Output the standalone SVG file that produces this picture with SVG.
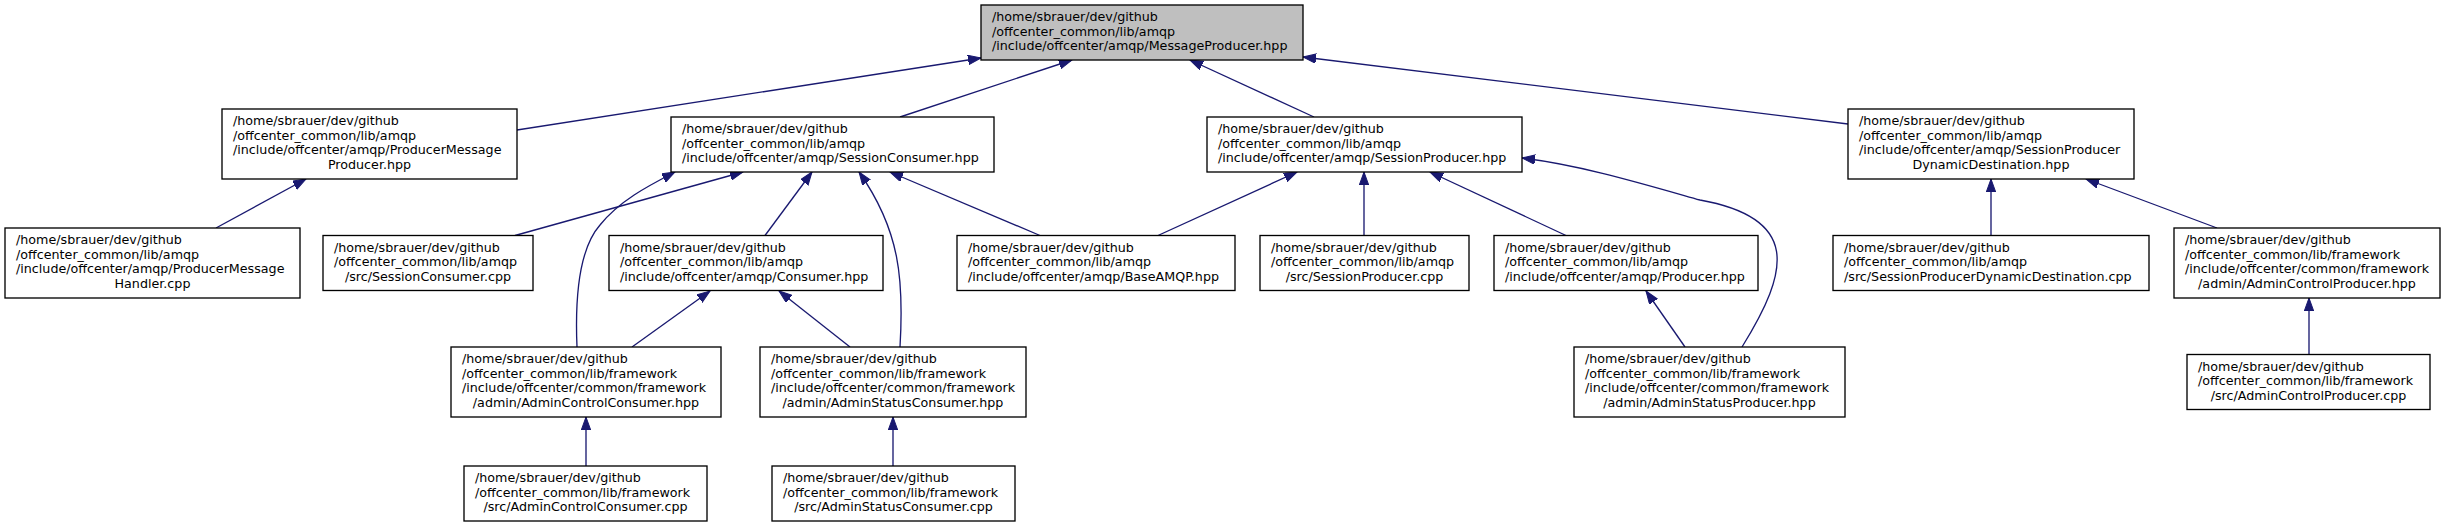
<svg xmlns="http://www.w3.org/2000/svg" width="2449" height="527" viewBox="0 0 2449 527">
<style>
.n rect{fill:#fff;stroke:#000;stroke-width:1.33}
.n.root rect{fill:#bfbfbf}
.n text{font-family:"DejaVu Sans",sans-serif;font-size:12.7px;fill:#000}
.n text.c{text-anchor:middle}
#edges path{fill:none;stroke:#191970;stroke-width:1.33;marker-end:url(#ah)}
</style>
<defs>
<marker id="ah" markerUnits="userSpaceOnUse" markerWidth="14" markerHeight="10" refX="13" refY="4.7" orient="auto">
<path d="M0,0 L13,4.7 L0,9.4 z" fill="#191970" stroke="#191970" stroke-width="1"/>
</marker>
</defs>
<rect width="2449" height="527" fill="#fff"/>
<g id="edges">
<path d="M216,228 L306,179"/>
<path d="M517,130 L981,58"/>
<path d="M900,117 L1072,60"/>
<path d="M1314,117 L1190,60"/>
<path d="M1848,124 L1303,57"/>
<path d="M515,235.5 L743,172"/>
<path d="M577,347 C575,300 578,250 600,225 C620,200 650,185 675,172"/>
<path d="M765,235.5 L812,172"/>
<path d="M900,347 C904,280 900,230 859,172"/>
<path d="M1040,235.5 L890,172"/>
<path d="M1158,235.5 L1297,172"/>
<path d="M1364,235.5 L1364,172"/>
<path d="M1566,235.5 L1430,172"/>
<path d="M1742,347 C1790,270 1800,218 1700,200 C1640,183 1580,165 1522,158"/>
<path d="M1685,347 L1646,291"/>
<path d="M632,347 L710,291"/>
<path d="M850,347 L779,291"/>
<path d="M1991,235.5 L1991,179"/>
<path d="M2217,228 L2086,179"/>
<path d="M2309,354.5 L2309,298"/>
<path d="M586,466 L586,417"/>
<path d="M893,466 L893,417"/>
</g>
<g id="n0" class="n root"><rect x="981" y="5" width="322" height="55"/>
<text x="992" y="21">/home/sbrauer/dev/github</text><text x="992" y="35.7">/offcenter_common/lib/amqp</text><text x="992" y="50.3">/include/offcenter/amqp/MessageProducer.hpp</text></g>
<g id="n1" class="n"><rect x="222" y="109" width="295" height="70"/>
<text x="233" y="125">/home/sbrauer/dev/github</text><text x="233" y="139.7">/offcenter_common/lib/amqp</text><text x="233" y="154.3">/include/offcenter/amqp/ProducerMessage</text><text class="c" x="369.5" y="169">Producer.hpp</text></g>
<g id="n2" class="n"><rect x="5" y="228" width="295" height="70"/>
<text x="16" y="244">/home/sbrauer/dev/github</text><text x="16" y="258.7">/offcenter_common/lib/amqp</text><text x="16" y="273.3">/include/offcenter/amqp/ProducerMessage</text><text class="c" x="152.5" y="288">Handler.cpp</text></g>
<g id="n3" class="n"><rect x="671" y="117" width="323" height="55"/>
<text x="682" y="133">/home/sbrauer/dev/github</text><text x="682" y="147.7">/offcenter_common/lib/amqp</text><text x="682" y="162.3">/include/offcenter/amqp/SessionConsumer.hpp</text></g>
<g id="n4" class="n"><rect x="323" y="235.5" width="210" height="55"/>
<text x="334" y="251.5">/home/sbrauer/dev/github</text><text x="334" y="266.2">/offcenter_common/lib/amqp</text><text class="c" x="428" y="280.8">/src/SessionConsumer.cpp</text></g>
<g id="n5" class="n"><rect x="609" y="235.5" width="274" height="55"/>
<text x="620" y="251.5">/home/sbrauer/dev/github</text><text x="620" y="266.2">/offcenter_common/lib/amqp</text><text x="620" y="280.8">/include/offcenter/amqp/Consumer.hpp</text></g>
<g id="n6" class="n"><rect x="957" y="235.5" width="278" height="55"/>
<text x="968" y="251.5">/home/sbrauer/dev/github</text><text x="968" y="266.2">/offcenter_common/lib/amqp</text><text x="968" y="280.8">/include/offcenter/amqp/BaseAMQP.hpp</text></g>
<g id="n7" class="n"><rect x="1207" y="117" width="315" height="55"/>
<text x="1218" y="133">/home/sbrauer/dev/github</text><text x="1218" y="147.7">/offcenter_common/lib/amqp</text><text x="1218" y="162.3">/include/offcenter/amqp/SessionProducer.hpp</text></g>
<g id="n8" class="n"><rect x="1260" y="235.5" width="209" height="55"/>
<text x="1271" y="251.5">/home/sbrauer/dev/github</text><text x="1271" y="266.2">/offcenter_common/lib/amqp</text><text class="c" x="1364.5" y="280.8">/src/SessionProducer.cpp</text></g>
<g id="n9" class="n"><rect x="1494" y="235.5" width="264" height="55"/>
<text x="1505" y="251.5">/home/sbrauer/dev/github</text><text x="1505" y="266.2">/offcenter_common/lib/amqp</text><text x="1505" y="280.8">/include/offcenter/amqp/Producer.hpp</text></g>
<g id="n10" class="n"><rect x="1848" y="109" width="286" height="70"/>
<text x="1859" y="125">/home/sbrauer/dev/github</text><text x="1859" y="139.7">/offcenter_common/lib/amqp</text><text x="1859" y="154.3">/include/offcenter/amqp/SessionProducer</text><text class="c" x="1991" y="169">DynamicDestination.hpp</text></g>
<g id="n11" class="n"><rect x="1833" y="235.5" width="316" height="55"/>
<text x="1844" y="251.5">/home/sbrauer/dev/github</text><text x="1844" y="266.2">/offcenter_common/lib/amqp</text><text x="1844" y="280.8">/src/SessionProducerDynamicDestination.cpp</text></g>
<g id="n12" class="n"><rect x="2174" y="228" width="266" height="70"/>
<text x="2185" y="244">/home/sbrauer/dev/github</text><text x="2185" y="258.7">/offcenter_common/lib/framework</text><text x="2185" y="273.3">/include/offcenter/common/framework</text><text class="c" x="2307" y="288">/admin/AdminControlProducer.hpp</text></g>
<g id="n13" class="n"><rect x="451" y="347" width="270" height="70"/>
<text x="462" y="363">/home/sbrauer/dev/github</text><text x="462" y="377.7">/offcenter_common/lib/framework</text><text x="462" y="392.3">/include/offcenter/common/framework</text><text class="c" x="586" y="407">/admin/AdminControlConsumer.hpp</text></g>
<g id="n14" class="n"><rect x="760" y="347" width="266" height="70"/>
<text x="771" y="363">/home/sbrauer/dev/github</text><text x="771" y="377.7">/offcenter_common/lib/framework</text><text x="771" y="392.3">/include/offcenter/common/framework</text><text class="c" x="893" y="407">/admin/AdminStatusConsumer.hpp</text></g>
<g id="n15" class="n"><rect x="1574" y="347" width="271" height="70"/>
<text x="1585" y="363">/home/sbrauer/dev/github</text><text x="1585" y="377.7">/offcenter_common/lib/framework</text><text x="1585" y="392.3">/include/offcenter/common/framework</text><text class="c" x="1709.5" y="407">/admin/AdminStatusProducer.hpp</text></g>
<g id="n16" class="n"><rect x="2187" y="354.5" width="243" height="55"/>
<text x="2198" y="370.5">/home/sbrauer/dev/github</text><text x="2198" y="385.2">/offcenter_common/lib/framework</text><text class="c" x="2308.5" y="399.8">/src/AdminControlProducer.cpp</text></g>
<g id="n17" class="n"><rect x="464" y="466" width="243" height="55"/>
<text x="475" y="482">/home/sbrauer/dev/github</text><text x="475" y="496.7">/offcenter_common/lib/framework</text><text class="c" x="585.5" y="511.3">/src/AdminControlConsumer.cpp</text></g>
<g id="n18" class="n"><rect x="772" y="466" width="243" height="55"/>
<text x="783" y="482">/home/sbrauer/dev/github</text><text x="783" y="496.7">/offcenter_common/lib/framework</text><text class="c" x="893.5" y="511.3">/src/AdminStatusConsumer.cpp</text></g>
</svg>
